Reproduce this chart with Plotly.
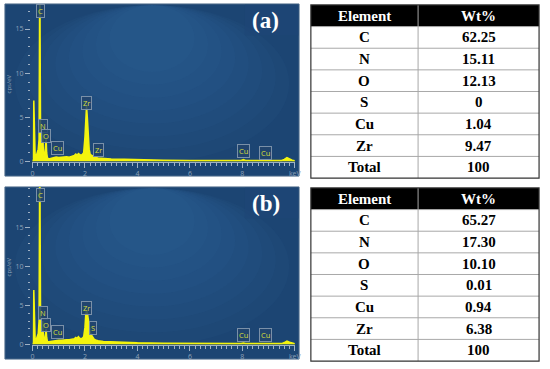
import plotly.graph_objects as go

W, H = 550, 369

# ---------------- data ----------------
elements = ["C", "N", "O", "S", "Cu", "Zr", "Total"]
wt_a = ["62.25", "15.11", "12.13", "0", "1.04", "9.47", "100"]
wt_b = ["65.27", "17.30", "10.10", "0.01", "0.94", "6.38", "100"]
table_header = ["Element", "Wt%"]

energy = [0.00, 0.03, 0.05, 0.07, 0.10, 0.14, 0.18, 0.22, 0.25, 0.27, 0.28, 0.29, 0.31, 0.34,
          0.37, 0.39, 0.41, 0.44, 0.47, 0.50, 0.52, 0.54, 0.57, 0.62, 0.70, 0.80, 0.90, 1.00,
          1.10, 1.20, 1.30, 1.40, 1.50, 1.60, 1.65, 1.70, 1.75, 1.80, 1.85, 1.90, 1.95, 2.00,
          2.03, 2.06, 2.09, 2.12, 2.16, 2.20, 2.25, 2.30, 2.35, 2.40, 2.50, 2.70, 3.00, 3.50,
          4.00, 5.00, 6.00, 7.00, 7.95, 8.04, 8.12, 8.90, 9.50, 9.60, 9.70, 9.80, 9.90, 10.00]

cps_a = [0.0, 0.3, 6.9, 1.2, 0.8, 0.6, 0.9, 1.4, 2.5, 14, 24, 14, 2.0, 0.9,
         2.2, 3.2, 1.5, 0.5, 0.7, 1.6, 2.6, 1.0, 0.4, 0.3, 0.35, 0.45, 0.5, 0.45,
         0.5, 0.5, 0.55, 0.5, 0.6, 0.7, 0.85, 0.7, 0.9, 0.75, 0.7, 0.8, 1.0, 2.8,
         5.4, 6.3, 5.0, 2.8, 1.4, 0.8, 0.7, 0.6, 0.5, 0.45, 0.4, 0.35, 0.3, 0.25,
         0.2, 0.15, 0.12, 0.12, 0.12, 0.22, 0.12, 0.12, 0.12, 0.25, 0.45, 0.3, 0.15, 0.1]

cps_b = [0.0, 0.3, 7.0, 1.2, 0.8, 0.6, 0.9, 1.4, 3.0, 16, 28, 16, 2.0, 0.9,
         2.0, 3.0, 1.4, 0.5, 0.6, 1.3, 2.0, 0.9, 0.4, 0.35, 0.4, 0.5, 0.5, 0.55,
         0.55, 0.6, 0.6, 0.6, 0.65, 0.75, 0.9, 0.8, 1.0, 0.8, 0.75, 0.8, 1.0, 2.2,
         3.8, 4.4, 4.1, 3.2, 2.3, 1.6, 1.2, 0.9, 0.7, 0.6, 0.5, 0.4, 0.35, 0.28,
         0.22, 0.16, 0.13, 0.12, 0.12, 0.2, 0.12, 0.12, 0.12, 0.25, 0.45, 0.3, 0.15, 0.1]

# peak labels (text, energy, label height)
labels_a = [("C", 0.30, 17.0), ("N", 0.39, 4.06), ("O", 0.52, 2.9), ("Cu", 0.94, 1.5),
            ("Zr", 2.06, 6.6), ("Zr", 2.50, 1.3), ("Cu", 8.04, 1.15), ("Cu", 8.90, 0.93)]
labels_b = [("C", 0.30, 19.2), ("N", 0.40, 4.0), ("O", 0.52, 2.45), ("Cu", 0.94, 1.56),
            ("Zr", 2.06, 4.7), ("S", 2.31, 2.07), ("Cu", 8.04, 1.18), ("Cu", 8.90, 1.18)]

x_ticks = [0, 2, 4, 6, 8, 10]
x_ticktext = ["0", "2", "4", "6", "8", "keV"]
y_ticks = [0, 5, 10, 15]

# ---------------- helpers ----------------
def px(x):
    return x / W

def py(y):
    return 1 - y / H

fig = go.Figure()
shapes = []
annotations = []

panels = [
    ("", cps_a, labels_a, 4, 178, 163.3, 8.93, "(a)", 5, 180, wt_a),
    ("2", cps_b, labels_b, 189, 363, 348.3, 7.88, "(b)", 190, 365, wt_b),
]

x0_px, x10_px = 31.0, 297.7
PL, PR = 3, 302
TL, TM, TR = 314, 423, 546
for idx, (sfx, cps, labels, ptop, pbot, base, ppu, tag, ttop, tbot, wt) in enumerate(panels):
    xa = "x" + sfx
    ya = "y" + sfx
    # panel background
    shapes.append(dict(type="rect", xref="paper", yref="paper", x0=px(PL), x1=px(PR),
                       y0=py(pbot), y1=py(ptop), fillcolor="#1c4573",
                       line=dict(width=0), layer="below"))
    ph = pbot - ptop
    for k in range(8):
        f = k / 8.0
        shapes.append(dict(type="circle", xref="paper", yref="paper",
                           x0=px(PL + 10 + f * 110), x1=px(PR - 10 - f * 110),
                           y0=py(ptop + ph * (0.92 - f * 0.6)), y1=py(ptop + 1),
                           fillcolor="#3d6fa3", opacity=0.07, line=dict(width=0), layer="below"))
    shapes.append(dict(type="rect", xref="paper", yref="paper", x0=px(PL), x1=px(PR),
                       y0=py(pbot), y1=py(ptop), fillcolor="rgba(0,0,0,0)",
                       line=dict(color="#4f6c8c", width=1), layer="below"))
    # tag box
    shapes.append(dict(type="rect", xref="paper", yref="paper", x0=px(247), x1=px(301.5),
                       y0=py(ptop + 32), y1=py(ptop + 0.5), fillcolor="rgba(30,70,118,0.6)",
                       line=dict(width=0), layer="below"))
    annotations.append(dict(text="<b>%s</b>" % tag, xref="paper", yref="paper",
                            x=px(268), y=py(ptop + 17), showarrow=False,
                            xanchor="center", yanchor="middle",
                            font=dict(family="Liberation Serif", size=23, color="white")))
    annotations.append(dict(text="cps/eV", xref="paper", yref="paper", x=px(7.5),
                            y=py(ptop + 81), showarrow=False, textangle=-90,
                            xanchor="center", yanchor="middle",
                            font=dict(family="Open Sans", size=6, color="#8ea2b8")))

    fig.add_trace(go.Scatter(x=energy, y=cps, mode="lines", fill="tozeroy",
                             line=dict(color="#f4f40e", width=1.5),
                             fillcolor="#f4f40e", xaxis=xa, yaxis=ya, showlegend=False,
                             hoverinfo="skip"))
    for (t, ex, ey) in labels:
        annotations.append(dict(text=t, xref=xa, yref=ya, x=ex, y=ey, showarrow=False,
                                xanchor="center", yanchor="middle",
                                font=dict(family="Open Sans", size=7.5, color="#d6de3c"),
                                bordercolor="#7a90a8", borderwidth=1, borderpad=1,
                                bgcolor="rgba(34,68,108,0.85)"))

    ytop = (base - ptop) / ppu
    xax = dict(domain=[px(x0_px), px(x10_px)], range=[0, 10], anchor=ya,
               tickmode="array", tickvals=x_ticks, ticktext=x_ticktext,
               ticks="outside", ticklen=5, tickcolor="#9fb1c4", tickwidth=1,
               minor=dict(tickmode="linear", tick0=0, dtick=0.2, ticks="outside",
                          ticklen=3, tickcolor="#9fb1c4"),
               showline=True, linecolor="#9fb1c4", linewidth=1,
               showgrid=False, zeroline=False,
               tickfont=dict(family="Open Sans", size=7, color="#8ea2b8"))
    yax = dict(domain=[py(base), py(ptop)], range=[0, ytop], anchor="free",
               position=px(28.5), side="left",
               tickmode="array", tickvals=y_ticks, ticks="outside", ticklen=5,
               tickcolor="#9fb1c4", tickwidth=1,
               minor=dict(tickmode="linear", tick0=0, dtick=1, ticks="outside",
                          ticklen=2, tickcolor="#9fb1c4"),
               showline=False, showgrid=False, zeroline=False,
               tickfont=dict(family="Open Sans", size=7, color="#8ea2b8"))
    if idx == 0:
        fig.update_layout(xaxis=xax, yaxis=yax)
    else:
        fig.update_layout(xaxis2=xax, yaxis2=yax)

    # ---- table (drawn from the lists) ----
    rows = [table_header] + [[e, v] for e, v in zip(elements, wt)]
    rh = (tbot - ttop) / len(rows)
    shapes.append(dict(type="rect", xref="paper", yref="paper", x0=px(TL), x1=px(TR),
                       y0=py(ttop + rh), y1=py(ttop), fillcolor="black", line=dict(width=0)))
    for r in range(1, len(rows)):
        shapes.append(dict(type="line", xref="paper", yref="paper", x0=px(TL), x1=px(TR),
                           y0=py(ttop + r * rh), y1=py(ttop + r * rh),
                           line=dict(color="#a8a8a8", width=1)))
    shapes.append(dict(type="line", xref="paper", yref="paper", x0=px(TM), x1=px(TM),
                       y0=py(tbot), y1=py(ttop), line=dict(color="#a8a8a8", width=1)))
    shapes.append(dict(type="rect", xref="paper", yref="paper", x0=px(TL), x1=px(TR),
                       y0=py(tbot), y1=py(ttop), line=dict(color="#333333", width=1.2)))
    for r, row in enumerate(rows):
        col = "white" if r == 0 else "black"
        yc = ttop + (r + 0.5) * rh
        for c, txt in enumerate(row):
            xc = (TL + TM) / 2 if c == 0 else (TM + TR) / 2
            annotations.append(dict(text="<b>%s</b>" % txt, xref="paper", yref="paper",
                                    x=px(xc), y=py(yc), showarrow=False,
                                    xanchor="center", yanchor="middle",
                                    font=dict(family="Liberation Serif", size=15, color=col)))

fig.update_layout(width=W, height=H, margin=dict(l=0, r=0, t=0, b=0),
                  paper_bgcolor="white", plot_bgcolor="rgba(0,0,0,0)",
                  shapes=shapes, annotations=annotations, showlegend=False)

fig.write_html("out.html", config={"displayModeBar": False},
               post_script="document.body.style.margin='0';document.body.style.padding='0';")
